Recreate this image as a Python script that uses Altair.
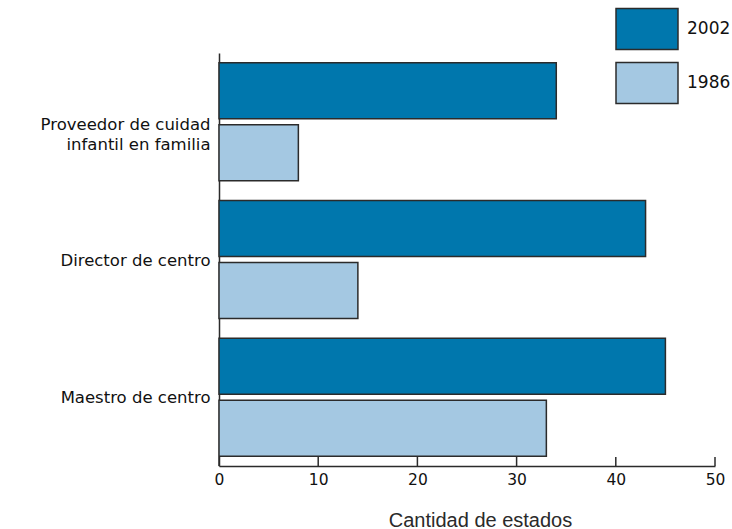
import altair as alt
import pandas as pd

# Number of states with a requirement, by role and year
roles = [
    "Proveedor de cuidad\ninfantil en familia",
    "Director de centro",
    "Maestro de centro",
]
years = ["2002", "1986"]
values_2002 = [34, 43, 45]
values_1986 = [8, 14, 33]
x_ticks = [0, 10, 20, 30, 40, 50]

colors = ["#0077ad", "#a4c8e2"]
outline = "#2b2b2b"
label_font = "DejaVu Sans"

rows = []
for role, v02, v86 in zip(roles, values_2002, values_1986):
    rows.append({"role": role, "year": "2002", "count": v02})
    rows.append({"role": role, "year": "1986", "count": v86})
df = pd.DataFrame(rows)
ticks_df = pd.DataFrame({"t": x_ticks})

W, H = 496, 413

x_scale = alt.Scale(domain=[0, 50], nice=False, zero=True)

x_axis = alt.Axis(
    values=x_ticks,
    ticks=False,
    grid=False,
    domainColor=outline,
    domainWidth=1.5,
    labelFont=label_font,
    labelFontSize=15.5,
    labelColor="#111111",
    labelPadding=6,
    labelFlush=False,
    title="Cantidad de estados",
    titleFont="Liberation Sans",
    titleFontSize=20,
    titleFontWeight="normal",
    titleColor="#2a2a2a",
    titleX=261,
    titleY=60,
    titleBaseline="alphabetic",
    titleAnchor="middle",
    titleAlign="center",
)

bars = alt.Chart(df).mark_bar(
    stroke=outline, strokeWidth=1.5, cornerRadius=0
).encode(
    x=alt.X("count:Q", scale=x_scale, axis=x_axis),
    y=alt.Y(
        "role:N",
        sort=roles,
        scale=alt.Scale(paddingInner=0, paddingOuter=0),
        axis=alt.Axis(
            title=None,
            ticks=False,
            grid=False,
            domainColor=outline,
            domainWidth=1.5,
            labelFont=label_font,
            labelFontSize=16.5,
            labelColor="#111111",
            labelPadding=9,
            labelLineHeight=20,
            labelLimit=300,
            labelExpr="split(datum.label, '\\n')",
            labelOffset={
                "condition": {"test": "indexof(datum.label, '\\n') >= 0", "value": 3},
                "value": 1,
            },
        ),
    ),
    yOffset=alt.YOffset(
        "year:N",
        sort=years,
        scale=alt.Scale(paddingInner=0.0968, paddingOuter=0.1587),
    ),
    color=alt.Color(
        "year:N",
        sort=years,
        scale=alt.Scale(domain=years, range=colors),
        legend=alt.Legend(
            title=None,
            orient="none",
            legendX=396,
            legendY=-49,
            symbolType="M-1,-0.661L1,-0.661L1,0.661L-1,0.661Z",
            symbolSize=3844,
            symbolStrokeColor=outline,
            symbolStrokeWidth=1.5,
            symbolOpacity=1,
            clipHeight=50,
            rowPadding=4,
            labelOffset=8,
            labelFont=label_font,
            labelFontSize=17,
            labelColor="#111111",
            labelBaseline="middle",
            padding=0,
        ),
    ),
)

# Tick marks rise from the x axis into the plot
tick_marks = alt.Chart(ticks_df).mark_rule(color=outline, strokeWidth=1.5).encode(
    x=alt.X("t:Q", scale=x_scale, axis=x_axis),
    y=alt.value(H),
    y2=alt.value(H - 9),
)

chart = alt.layer(bars, tick_marks).properties(
    width=W,
    height=H,
    autosize=alt.AutoSizeParams(type="none"),
    padding={"left": 219, "top": 53, "right": 17, "bottom": 63},
    background="white",
).configure_view(stroke=None)

chart.save("out.html", embed_options={"renderer": "svg", "actions": False})
